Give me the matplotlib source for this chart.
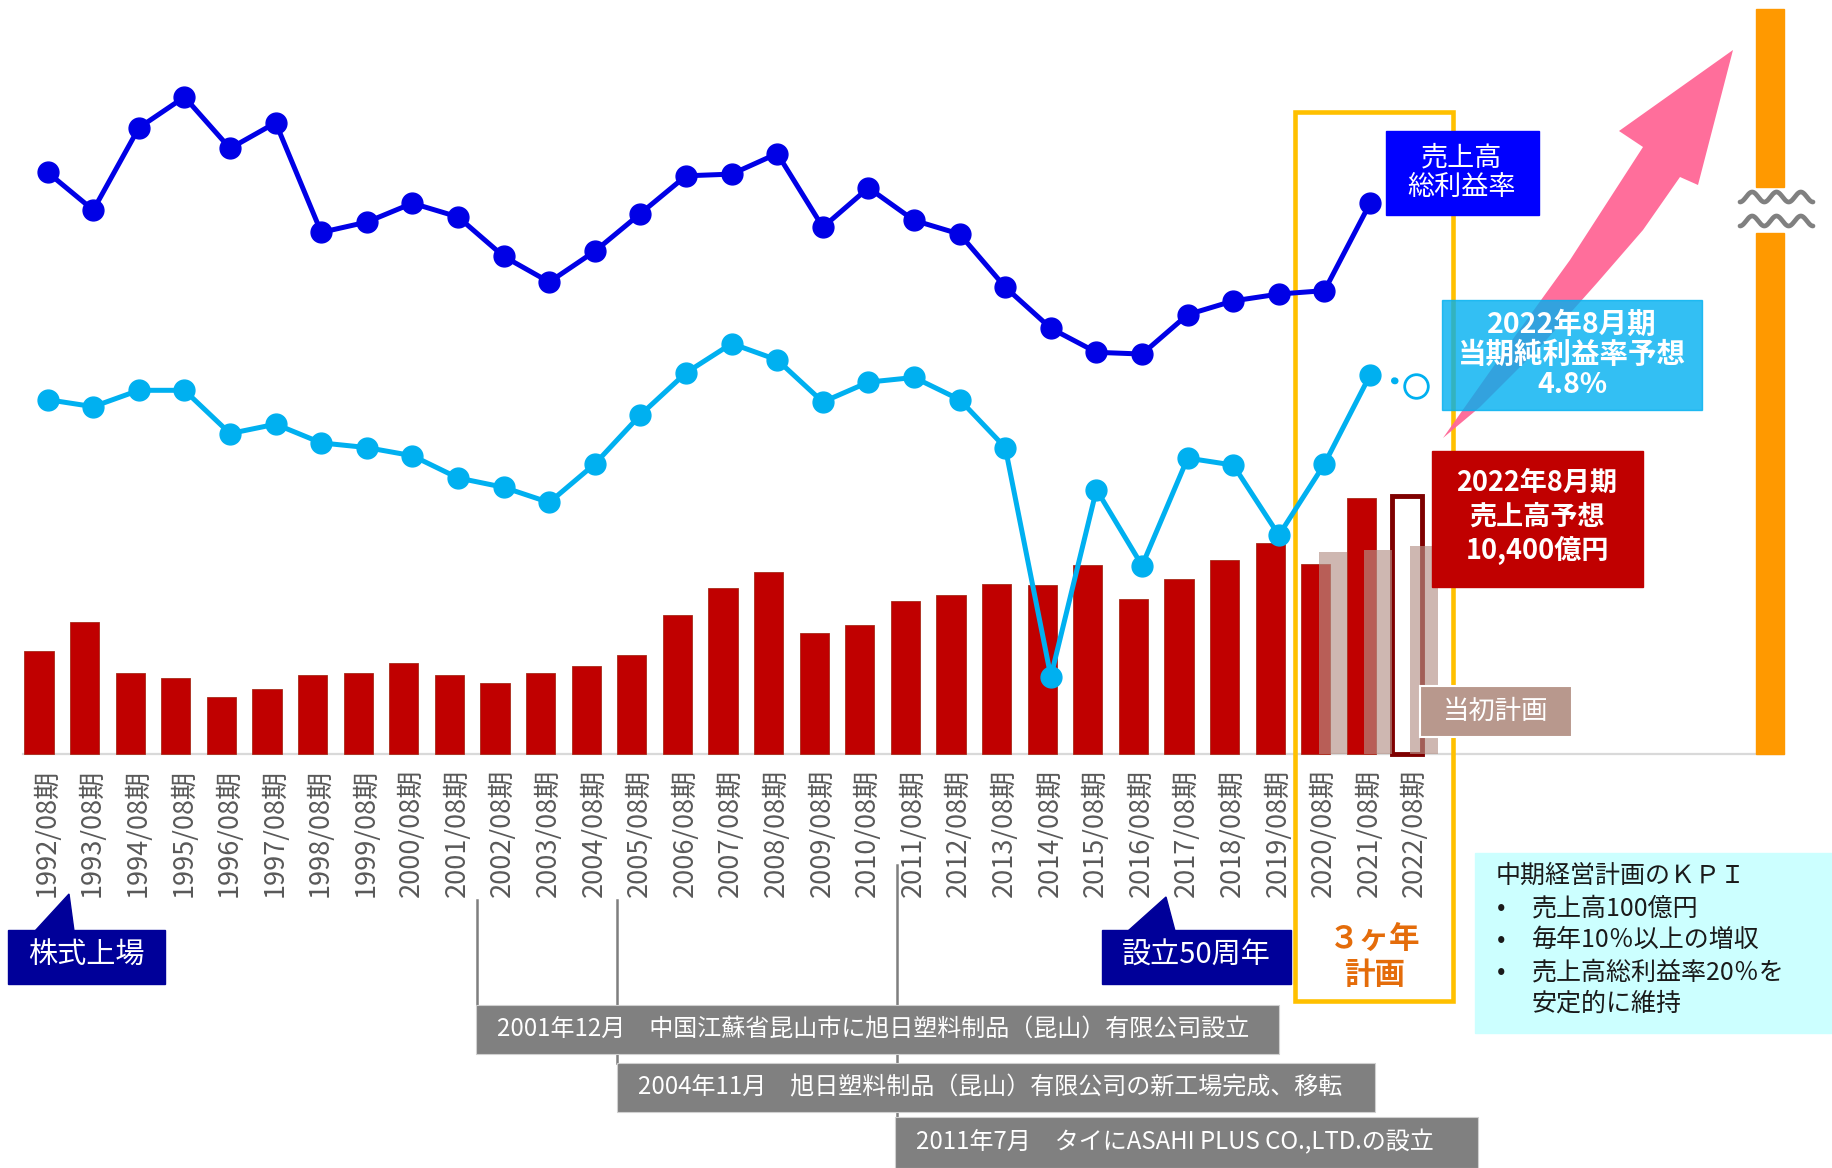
import numpy as np
import matplotlib
matplotlib.use("Agg")
import matplotlib.pyplot as plt
from matplotlib.patches import Rectangle, Polygon
from matplotlib.lines import Line2D
import matplotlib.transforms as mtransforms

plt.rcParams['font.family'] = ['Noto Sans CJK JP', 'DejaVu Sans']

# ---- data ----
years = [str(y) + "/08期" for y in range(1992, 2023)]
# sales (actual) 1992..2021
sales = [4140, 5320, 3250, 3060, 2310, 2640, 3200, 3250, 3670, 3200,
         2870, 3250, 3530, 4000, 5600, 6680, 7340, 4890, 5180, 6160,
         6400, 6870, 6820, 7620, 6260, 7060, 7810, 8520, 7670, 10300]
sales_forecast = 10400          # 2022
plan_years = [28, 29, 30]        # 2020, 2021, 2022 (index)
plan_sales = [8140, 8240, 8380]  # 当初計画
# gross margin % 1992..2021
gross_margin = [25.8, 24.7, 27.1, 28.0, 26.5, 27.25, 24.05, 24.35, 24.9, 24.5,
                23.35, 22.6, 23.5, 24.6, 25.7, 25.75, 26.35, 24.2, 25.35, 24.4,
                24.0, 22.45, 21.25, 20.55, 20.5, 21.65, 22.05, 22.25, 22.35, 24.9]
# net margin % 1992..2021
net_margin = [4.56, 4.44, 4.72, 4.72, 3.98, 4.14, 3.82, 3.74, 3.6, 3.22,
              3.06, 2.8, 3.46, 4.3, 5.02, 5.52, 5.24, 4.52, 4.86, 4.94,
              4.56, 3.74, -0.18, 3.02, 1.72, 3.56, 3.44, 2.24, 3.46, 4.98]
net_forecast = 4.8
events = ["2001年12月　中国江蘇省昆山市に旭日塑料制品（昆山）有限公司設立",
          "2004年11月　旭日塑料制品（昆山）有限公司の新工場完成、移転",
          "2011年7月　タイにASAHI PLUS CO.,LTD.の設立"]
kpi_lines = ["中期経営計画のＫＰＩ", "•", "売上高100億円", "•", "毎年10％以上の増収",
             "•", "売上高総利益率20％を", "安定的に維持"]

W, H = 1832, 1168
fig = plt.figure(figsize=(W / 100, H / 100), dpi=100)
fig.patch.set_facecolor("white")

def fp(x, y):
    return (x / W, 1 - y / H)

def rect(x0, y0, x1, y1, **kw):
    r = Rectangle(fp(x0, y1), (x1 - x0) / W, (y1 - y0) / H,
                  transform=fig.transFigure, **kw)
    fig.add_artist(r)
    return r

# main axes covering the whole figure
x0_px, step_px = 39.0, 45.6
base_px = 754.0
val_per_px = 10400 / 258.0
ax = fig.add_axes([0, 0, 1, 1])
ax.set_xlim(-x0_px / step_px, (W - x0_px) / step_px)
ax.set_ylim(-(H - base_px) * val_per_px, base_px * val_per_px)
ax.axis('off')

idx = np.arange(len(years))
ax.bar(idx[:30], sales, width=0.64, color='#c00000', edgecolor='#a82b1a',
       linewidth=0.6, zorder=2)
ax.bar(30, sales_forecast, width=0.64, fill=False, edgecolor='#7f0000',
       linewidth=3.5, zorder=2)
ax.bar(np.array(plan_years) + 0.37, plan_sales, width=0.62,
       color=(0.71, 0.57, 0.53), alpha=0.65, zorder=3)
ax.axhline(0, xmin=23 / W, xmax=1784 / W, color='#d9d9d9', lw=1.6, zorder=1)

# 3-year plan frame (under the lines)
ax.add_patch(Rectangle(fp(1295, 1001), (1453 - 1295) / W, (1001 - 112) / H,
                       transform=fig.transFigure, fill=False,
                       edgecolor='#ffc000', lw=3.3, zorder=4))

# category labels
blend = mtransforms.blended_transform_factory(ax.transData, fig.transFigure)
for i, lab in enumerate(years):
    ax.text(i + 0.17, 1 - 769 / H, lab, rotation=90, ha='center', va='top',
            fontsize=19.5, color='#595959', transform=blend)

# lines on separate hidden axes
lx = idx + 0.19
ax_g = ax.twinx()
ax_g.set_ylim(-3.25, 30.83)
ax_g.axis('off')
ax_g.plot(lx[:30], gross_margin, color='#0000e6', lw=3.6, marker='o',
          markersize=15, zorder=5)
ax_n = ax.twinx()
ax_n.set_ylim(-8.59, 11.4)
ax_n.axis('off')
ax_n.plot(lx[:30], net_margin, color='#00b0f0', lw=3.6, marker='o',
          markersize=15, zorder=5)
ax_n.plot([lx[29], lx[30]], [net_margin[-1], net_forecast], color='#00b0f0',
          lw=5, linestyle=(0, (0.1, 3.5)), dash_capstyle='round', zorder=4)
ax_n.plot(lx[30], net_forecast, marker='o', markersize=17, mfc='white',
          mec='#00b0f0', mew=2, zorder=5)
for a in (ax_g, ax_n):
    a.set_xlim(ax.get_xlim())

# orange bar with break
rect(1756, 9, 1784, 187, color='#ff9900', zorder=1)
rect(1756, 233, 1784, 754, color='#ff9900', zorder=1)
wx = np.linspace(1740, 1813, 200)
for yc in (197, 221):
    wy = yc + 5 * np.sin((wx - 1740) / 73 * 3 * 2 * np.pi + np.pi / 2)
    fig.add_artist(Line2D(wx / W, 1 - wy / H, transform=fig.transFigure,
                          color='#808080', lw=3.4, solid_capstyle='round', zorder=1))

# pink arrow
arrow_pts = [(1443, 438), (1510, 343), (1570, 260), (1643, 147), (1619, 131),
             (1733, 50), (1698, 185), (1680, 177), (1643, 230), (1597, 283),
             (1540, 347), (1480, 407), (1443, 438)]
fig.add_artist(Polygon([fp(x, y) for x, y in arrow_pts], closed=True,
                       transform=fig.transFigure, color='#ff6696',
                       alpha=0.95, lw=0, zorder=1.2))

# annotation boxes
rect(1386, 131, 1539, 215, color='#0000ff', zorder=2)
fig.text(*fp(1462, 173), "売上高\n総利益率", ha='center', va='center',
         fontsize=19.5, color='white', linespacing=1.1, zorder=3)

rect(1442, 300, 1702, 410, color='#00b0f0', alpha=0.8, zorder=2)
fig.text(*fp(1572, 355), "2022年8月期\n当期純利益率予想\n4.8%", ha='center',
         va='center', fontsize=20.5, fontweight='bold', color='white',
         linespacing=1.1, zorder=3)

rect(1432, 451, 1643, 587, color='#c00000', zorder=2)
fig.text(*fp(1537, 517), "2022年8月期\n売上高予想\n10,400億円", ha='center',
         va='center', fontsize=19.5, fontweight='bold', color='white',
         linespacing=1.25, zorder=3)

rect(1420, 686, 1572, 737, facecolor='#b8988d', edgecolor='white', lw=1.5, zorder=2)
fig.text(*fp(1496, 711), "当初計画", ha='center', va='center', fontsize=19,
         color='white', zorder=3)

fig.text(*fp(1375, 957), "３ヶ年\n計画", ha='center', va='center', fontsize=22,
         fontweight='bold', color='#e46c0a', linespacing=1.15, zorder=3)

# callouts
rect(8, 930, 165, 984, color='#000099', zorder=2)
fig.add_artist(Polygon([fp(35, 931), fp(74, 931), fp(69, 894)], closed=True,
                       transform=fig.transFigure, color='#000099', zorder=2))
fig.text(*fp(86, 956), "株式上場", ha='center', va='center', fontsize=21,
         color='white', zorder=3)

rect(1102, 930, 1291, 984, color='#000099', zorder=2)
fig.add_artist(Polygon([fp(1128, 931), fp(1175, 931), fp(1166, 897)], closed=True,
                       transform=fig.transFigure, color='#000099', zorder=2))
fig.text(*fp(1196, 956), "設立50周年", ha='center', va='center', fontsize=21,
         color='white', zorder=3)

# KPI box
rect(1475, 853, 1832, 1033, color='#ccffff', zorder=2)
fig.text(*fp(1496, 876), kpi_lines[0], ha='left', va='center', fontsize=18,
         color='#1a1a1a', zorder=3)
ky = 908
for b, t in [(kpi_lines[1], kpi_lines[2]), (kpi_lines[3], kpi_lines[4]),
             (kpi_lines[5], kpi_lines[6]), ("", kpi_lines[7])]:
    if b:
        fig.text(*fp(1497, ky), b, ha='left', va='center', fontsize=18,
                 color='#1a1a1a', zorder=3)
    fig.text(*fp(1532, ky), t, ha='left', va='center', fontsize=18,
             color='#1a1a1a', zorder=3)
    ky += 32

# events timeline
ev_lines = [(477, 900, 1005), (617, 900, 1063), (897, 865, 1117)]
for x, ya, yb in ev_lines:
    fig.add_artist(Line2D([x / W, x / W], [1 - ya / H, 1 - yb / H],
                          transform=fig.transFigure, color='#7f7f7f', lw=1.8, zorder=1))
ev_boxes = [(476, 1005, 1279, 1054), (617, 1063, 1375, 1112), (895, 1117, 1478, 1168)]
for (x0, y0, x1, y1), txt in zip(ev_boxes, events):
    rect(x0, y0, x1, y1, facecolor='#808080', edgecolor='#d0d0d0', lw=0.8, zorder=2)
    fig.text(*fp(x0 + 21, (y0 + y1) / 2), txt, ha='left', va='center',
             fontsize=17.3, color='white', zorder=3)

fig.savefig("out.png", dpi=100)
